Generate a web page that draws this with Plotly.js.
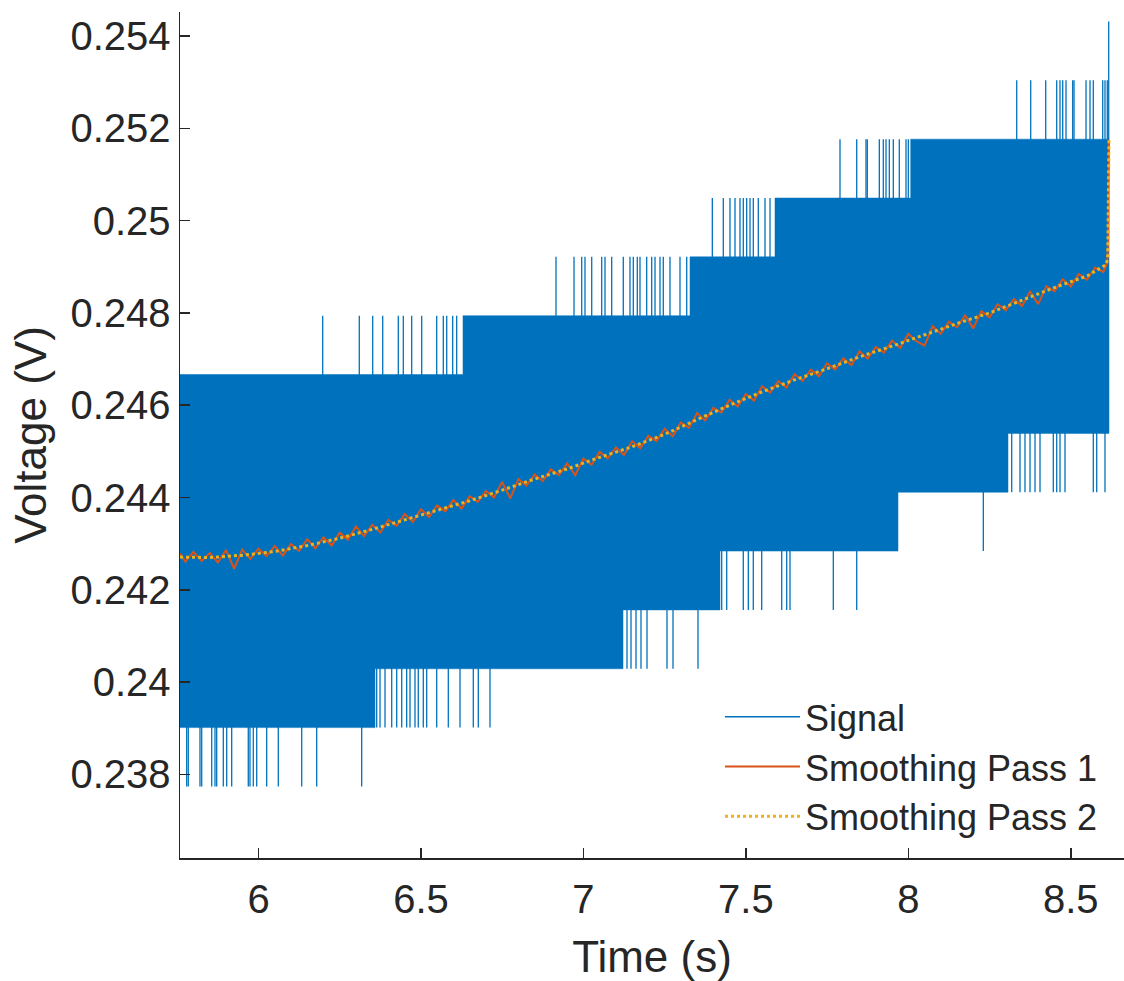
<!DOCTYPE html>
<html>
<head>
<meta charset="utf-8">
<script src="https://cdn.plot.ly/plotly-3.0.1.min.js"></script>
<style>html,body{margin:0;padding:0;background:#fff;}#chart{width:1124px;height:981px;}</style>
</head>
<body>
<div id="chart"></div>
<script>
// Quantization levels of the sampled signal (V)
const levelVolts = [0.23774, 0.239015, 0.24029, 0.241565, 0.24284, 0.244115, 0.24539,
                    0.246665, 0.24794, 0.249215, 0.25049, 0.251765, 0.25304, 0.254315];

// Dense part of the signal: upper / lower level held between breakpoints (s)
const upperEdgeTimes  = [5.7584, 6.6294, 7.3281, 7.5897, 8.0074, 8.6177];
const upperEdgeLevels = [7, 8, 9, 10, 11];
const lowerEdgeTimes  = [5.7584, 6.3586, 7.1219, 7.4204, 7.9683, 8.3069, 8.6177];
const lowerEdgeLevels = [1, 2, 3, 4, 5, 6];

// Sparse excursions above the dense band
const upperSpikeTimes = [
  6.1976, 6.3103, 6.3515, 6.3823, 6.4303, 6.4457, 6.4715, 6.5023, 6.5485, 6.5688, 6.5793, 6.5977, 6.6100,
  6.9157, 6.9711, 6.9948, 7.0049, 7.0256, 7.0563, 7.0665, 7.0871, 7.1228, 7.1434, 7.1536, 7.1659, 7.1742,
  7.1948, 7.2102, 7.2204, 7.2358, 7.2459, 7.2665, 7.2973, 7.3180,
  7.3968, 7.4306, 7.4512, 7.4666, 7.4820, 7.4922, 7.5026, 7.5128, 7.5229, 7.5383, 7.5590, 7.5744,
  7.7898, 7.8412, 7.8698, 7.8738, 7.9108, 7.9231, 7.9314, 7.9416, 7.9539, 7.9723, 7.9929, 8.0000,
  8.3337, 8.3768, 8.4229, 8.4568, 8.4669, 8.4753, 8.4854, 8.5060, 8.5100, 8.5470, 8.5593, 8.5694,
  8.5984, 8.6054, 8.6125, 8.6168];
const upperSpikeLevels = [
  8, 8, 8, 8, 8, 8, 8, 8, 8, 8, 8, 8, 8,
  9, 9, 9, 9, 9, 9, 9, 9, 9, 9, 9, 9, 9,
  9, 9, 9, 9, 9, 9, 9, 9,
  10, 10, 10, 10, 10, 10, 10, 10, 10, 10, 10, 10,
  11, 11, 11, 11, 11, 11, 11, 11, 11, 11, 11, 11,
  12, 12, 12, 12, 12, 12, 12, 12, 12, 12, 12, 12,
  12, 12, 12, 13];

// Sparse excursions below the dense band
const lowerSpikeTimes = [
  5.7790, 5.7839, 5.8199, 5.8252, 5.8560, 5.8661, 5.8713, 5.8917, 5.9021, 5.9175, 5.9686, 5.9738,
  5.9840, 5.9945, 6.0252, 6.0609, 6.1330, 6.1791, 6.3176,
  6.3638, 6.3740, 6.3894, 6.4100, 6.4254, 6.4408, 6.4561, 6.4663, 6.4817, 6.4918, 6.5072, 6.5177,
  6.5485, 6.5842, 6.6202, 6.6611, 6.6765, 6.7125,
  7.1342, 7.1465, 7.1619, 7.1773, 7.1958, 7.2573, 7.2758, 7.3527,
  7.4257, 7.4411, 7.4922, 7.5076, 7.5229, 7.5488, 7.6104, 7.6257, 7.6359, 7.7692, 7.8412,
  8.2309,
  8.3183, 8.3438, 8.3592, 8.3746, 8.3900, 8.4054, 8.4463, 8.4568, 8.4669, 8.4823, 8.5694, 8.5799, 8.6054];
const lowerSpikeLevels = [
  0, 0, 0, 0, 0, 0, 0, 0, 0, 0, 0, 0,
  0, 0, 0, 0, 0, 0, 0,
  1, 1, 1, 1, 1, 1, 1, 1, 1, 1, 1, 1,
  1, 1, 1, 1, 1, 1,
  2, 2, 2, 2, 2, 2, 2, 2,
  3, 3, 3, 3, 3, 3, 3, 3, 3, 3, 3,
  4,
  5, 5, 5, 5, 5, 5, 5, 5, 5, 5, 5, 5, 5];

// Smoothing pass 1 (moving average, still rippled)
const pass1Times = [
  5.7584, 5.775, 5.800, 5.825, 5.850, 5.875, 5.900, 5.925, 5.950, 5.975,
  6.000, 6.025, 6.050, 6.075, 6.100, 6.125, 6.150, 6.175, 6.200, 6.225,
  6.250, 6.275, 6.300, 6.325, 6.350, 6.375, 6.400, 6.425, 6.450, 6.475,
  6.500, 6.525, 6.550, 6.575, 6.600, 6.625, 6.650, 6.675, 6.700, 6.725,
  6.750, 6.775, 6.800, 6.825, 6.850, 6.875, 6.900, 6.925, 6.950, 6.975,
  7.000, 7.025, 7.050, 7.075, 7.100, 7.125, 7.150, 7.175, 7.200, 7.225,
  7.250, 7.275, 7.300, 7.325, 7.350, 7.375, 7.400, 7.425, 7.450, 7.475,
  7.500, 7.525, 7.550, 7.575, 7.600, 7.625, 7.650, 7.675, 7.700, 7.725,
  7.750, 7.775, 7.800, 7.825, 7.850, 7.875, 7.900, 7.925, 7.950, 7.975,
  8.000, 8.025, 8.050, 8.075, 8.100, 8.125, 8.150, 8.175, 8.200, 8.225,
  8.250, 8.275, 8.300, 8.325, 8.350, 8.375, 8.400, 8.425, 8.450, 8.475,
  8.500, 8.525, 8.550, 8.575, 8.600, 8.612, 8.615, 8.6177];
const pass1Volts = [
  0.242790, 0.242607, 0.242825, 0.242622, 0.242800, 0.242592, 0.242865, 0.242457, 0.242870, 0.242670,
  0.242890, 0.242730, 0.242950, 0.242742, 0.242995, 0.242848, 0.243100, 0.242900, 0.243140, 0.242960,
  0.243240, 0.243088, 0.243375, 0.243162, 0.243410, 0.243242, 0.243515, 0.243388, 0.243640, 0.243472,
  0.243745, 0.243578, 0.243830, 0.243700, 0.243950, 0.243760, 0.244030, 0.243908, 0.244145, 0.244002,
  0.244340, 0.243980, 0.244400, 0.244260, 0.244500, 0.244355, 0.244610, 0.244485, 0.244740, 0.244482,
  0.244845, 0.244708, 0.244990, 0.244848, 0.245085, 0.244922, 0.245220, 0.245068, 0.245335, 0.245222,
  0.245490, 0.245330, 0.245630, 0.245510, 0.245830, 0.245668, 0.245945, 0.245842, 0.246120, 0.245972,
  0.246245, 0.246098, 0.246410, 0.246275, 0.246520, 0.246385, 0.246670, 0.246530, 0.246770, 0.246630,
  0.246910, 0.246775, 0.247020, 0.246865, 0.247170, 0.247008, 0.247265, 0.247142, 0.247400, 0.247242,
  0.247545, 0.247388, 0.247290, 0.247710, 0.247550, 0.247810, 0.247690, 0.247948, 0.247665, 0.248042,
  0.247900, 0.248188, 0.248055, 0.248302, 0.248150, 0.248460, 0.248190, 0.248580, 0.248470, 0.248732,
  0.248575, 0.248838, 0.248720, 0.248983, 0.248887, 0.249080, 0.249600, 0.251750];

// Smoothing pass 2 (smooth trend)
const pass2Times = [5.7584, 5.85, 5.95, 6.05, 6.15, 6.25, 6.35, 6.45, 6.55, 6.65, 6.75, 6.85, 6.95,
                    7.05, 7.15, 7.25, 7.35, 7.45, 7.55, 7.65, 7.75, 7.85, 7.95, 8.05, 8.15, 8.25,
                    8.35, 8.45, 8.55, 8.61, 8.614, 8.6177];
const pass2Volts = [0.24271, 0.24270, 0.24275, 0.24283, 0.24296, 0.24312, 0.24331, 0.24352, 0.24373,
                    0.24393, 0.24416, 0.24440, 0.24462, 0.24487, 0.24510, 0.24537, 0.24569, 0.24600,
                    0.24629, 0.24655, 0.24679, 0.24705, 0.24728, 0.24753, 0.24777, 0.24800, 0.24827,
                    0.24855, 0.24880, 0.24905, 0.24925, 0.25175];

// Axis ticks
const xTickVals = [6, 6.5, 7, 7.5, 8, 8.5];
const xTickText = ['6', '6.5', '7', '7.5', '8', '8.5'];
const yTickVals = [0.238, 0.240, 0.242, 0.244, 0.246, 0.248, 0.250, 0.252, 0.254];
const yTickText = ['0.238', '0.24', '0.242', '0.244', '0.246', '0.248', '0.25', '0.252', '0.254'];

// ---- build traces ----
const BLUE = '#0072BD', ORANGE = '#D95319', YELLOW = '#EDB120', INK = '#262626';
const FONT = 'Liberation Sans, Arial, Helvetica, sans-serif';

function stepPath(times, lv) {
  const xs = [], ys = [];
  for (let i = 0; i < lv.length; i++) {
    xs.push(times[i], times[i + 1]);
    ys.push(levelVolts[lv[i]], levelVolts[lv[i]]);
  }
  return {xs, ys};
}
const up = stepPath(upperEdgeTimes, upperEdgeLevels);
const lo = stepPath(lowerEdgeTimes, lowerEdgeLevels);
const bandX = up.xs.concat(lo.xs.slice().reverse());
const bandY = up.ys.concat(lo.ys.slice().reverse());

const spikeX = [], spikeY = [];
upperSpikeTimes.forEach((t, i) => {
  const L = upperSpikeLevels[i];
  spikeX.push(t, t, null);
  spikeY.push(levelVolts[L], levelVolts[L - 2], null);
});
lowerSpikeTimes.forEach((t, i) => {
  const L = lowerSpikeLevels[i];
  spikeX.push(t, t, null);
  spikeY.push(levelVolts[L], levelVolts[L + 2], null);
});

const traces = [
  {x: bandX, y: bandY, type: 'scatter', mode: 'lines', fill: 'toself', fillcolor: BLUE,
   line: {color: BLUE, width: 0.5}, showlegend: false, hoverinfo: 'skip', legendgroup: 'sig'},
  {x: spikeX, y: spikeY, type: 'scatter', mode: 'lines', name: 'Signal',
   line: {color: BLUE, width: 1.3}, connectgaps: false, legendgroup: 'sig'},
  {x: pass1Times, y: pass1Volts, type: 'scatter', mode: 'lines', name: 'Smoothing Pass 1',
   line: {color: ORANGE, width: 2}},
  {x: pass2Times, y: pass2Volts, type: 'scatter', mode: 'lines', name: 'Smoothing Pass 2',
   line: {color: YELLOW, width: 3, dash: 'dot'}}
];

const layout = {
  width: 1124, height: 981,
  margin: {l: 180, r: 0, t: 12, b: 123, pad: 0},
  paper_bgcolor: '#ffffff', plot_bgcolor: '#ffffff',
  font: {family: FONT, color: INK, size: 40},
  showlegend: true,
  legend: {x: 0.572, y: 0.2023, xanchor: 'left', yanchor: 'top', bgcolor: 'rgba(255,255,255,0)',
           borderwidth: 0, itemwidth: 75, font: {family: FONT, size: 36, color: INK}, tracegroupgap: 0},
  xaxis: {range: [5.7584, 8.6639], showgrid: false, zeroline: false, showline: true, mirror: false,
          linecolor: INK, linewidth: 1.5, ticks: 'inside', ticklen: 10, tickwidth: 1.5, tickcolor: INK,
          tickmode: 'array', tickvals: xTickVals, ticktext: xTickText, ticklabelstandoff: 5,
          tickfont: {family: FONT, size: 40, color: INK},
          title: {text: 'Time (s)', font: {family: FONT, size: 44, color: INK}, standoff: 32}},
  yaxis: {range: [0.23619, 0.25452], showgrid: false, zeroline: false, showline: true, mirror: false,
          linecolor: INK, linewidth: 1.5, ticks: 'inside', ticklen: 10, tickwidth: 1.5, tickcolor: INK,
          tickmode: 'array', tickvals: yTickVals, ticktext: yTickText, ticklabelstandoff: 0,
          tickfont: {family: FONT, size: 40, color: INK},
          title: {text: 'Voltage (V)', font: {family: FONT, size: 44, color: INK}, standoff: 10}}
};

Plotly.newPlot('chart', traces, layout, {staticPlot: true, displayModeBar: false});
</script>
</body>
</html>
